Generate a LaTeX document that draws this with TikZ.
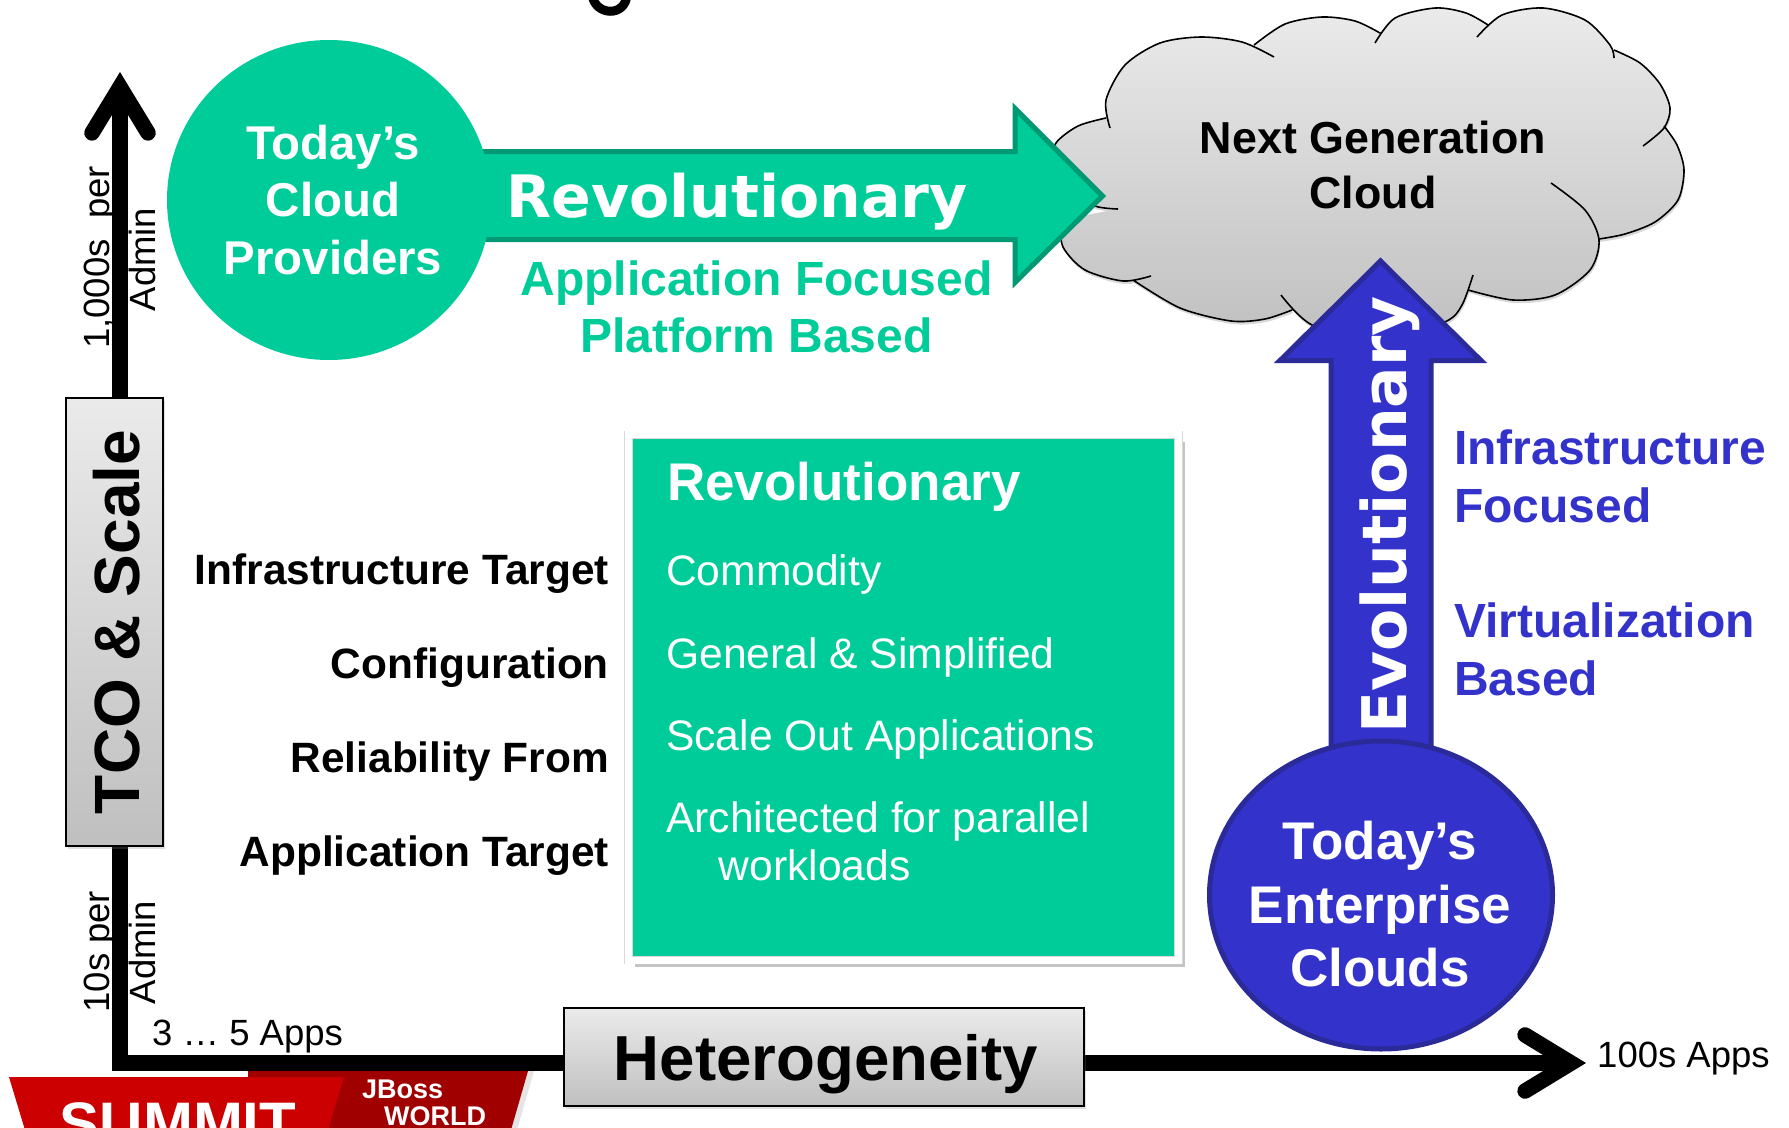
\documentclass[tikz,border=0pt]{standalone}
\usepackage{fontspec}
\setmainfont{Liberation Sans}
\newfontfamily\widefont{DejaVu Sans}
\usetikzlibrary{arrows.meta,shadows,positioning,shapes.geometric}
\definecolor{revgreen}{HTML}{00CC99}
\definecolor{revdark}{HTML}{009973}
\definecolor{evoblue}{HTML}{3333CC}
\definecolor{evodark}{HTML}{2A2A99}
\definecolor{logored}{HTML}{CC0000}
\definecolor{logodark}{HTML}{A00000}
\newcommand{\sized}[2]{\fontsize{#1}{#2}\selectfont}
\newcommand{\cloudbumps}[1]{
  plot[smooth] coordinates {(1118,209) (1095,206) (1068,190) (1052,165) (1056,143) (1078,126) (1106,118)} #1
  plot[smooth] coordinates {(1110,128) (1106,100) (1125,65) (1160,43) (1201,37) (1242,42) (1274,57)} #1
  plot[smooth] coordinates {(1254,45) (1285,24) (1322,17) (1355,21) (1380,33)} #1
  plot[smooth] coordinates {(1375,43) (1395,18) (1435,8) (1466,13) (1488,25)} #1
  plot[smooth] coordinates {(1477,37) (1502,15) (1543,8) (1585,20) (1610,45) (1614,58)} #1
  plot[smooth] coordinates {(1614,50) (1640,63) (1660,84) (1670,108) (1664,128) (1643,146)} #1
  plot[smooth] coordinates {(1664,126) (1677,145) (1684,170) (1678,200) (1655,222) (1625,234) (1599,239)} #1
  plot[smooth] coordinates {(1551,183) (1585,210) (1599,240) (1590,270) (1555,295) (1513,300) (1468,290)} #1
  plot[smooth] coordinates {(1473,275) (1462,305) (1445,322) (1380,345) (1312,325) (1281,295)} #1
  plot[smooth] coordinates {(1292,310) (1265,319) (1231,321) (1180,308) (1133,280)} #1
  plot[smooth] coordinates {(1151,276) (1123,281) (1085,270) (1063,247) (1060,220)}
}
\tikzset{
  axisline/.style={line width=15.5pt,-{Straight Barb[length=46pt,width=56pt,line width=15.5pt,line cap=round,line join=miter]}},
  graybox/.style={draw=black,line width=1.5pt,inner sep=0pt,drop shadow={shadow xshift=2pt,shadow yshift=-3pt,opacity=.25}},
  axislabel/.style={font=\sized{36.5}{40},inner sep=0pt,anchor=base},
  sidelabel/.style={font=\sized{42.4}{50}\bfseries,inner sep=0pt,anchor=base east},
  boxitem/.style={font=\sized{42.6}{50},text=white,inner sep=0pt,anchor=base west},
  disclabel/.style={text=white,align=center,inner sep=0pt},
  bluelabel/.style={font=\sized{48}{58}\bfseries,text=evoblue,align=left,inner sep=0pt,anchor=west}
}
\begin{document}
\begin{tikzpicture}[x=1pt,y=-1pt]
  \useasboundingbox (0,0) rectangle (1789,1130);
  \clip (0,0) rectangle (1789,1130);
  \fill[white] (0,0) rectangle (1789,1130);
  \draw[line width=9pt,line cap=round] (592,-6) .. controls (594,16) and (626,18) .. (627,-6);
  \fill[logodark,drop shadow={shadow xshift=6pt,shadow yshift=0pt,opacity=.2}] (248,1071) -- (528,1071) -- (511,1130) -- (248,1130) -- cycle;
  \fill[logored] (9,1077) -- (344,1077) -- (328,1130) -- (25,1130) -- cycle;
  \node[font=\sized{60}{62}\bfseries,text=white,inner sep=0pt,anchor=base] (summit) at (178,1144) {SUMMIT};
  \node[font=\sized{27}{30}\bfseries,text=white,inner sep=0pt,anchor=base west] (jboss) at (362,1098) {JBoss};
  \node[font=\sized{27}{30}\bfseries,text=white,inner sep=0pt,anchor=base west] (jworld) at (384,1125) {WORLD};
  \draw[color=pink,line width=1.5pt] (0,1129) -- (1789,1129);

  \path[top color=white!92!black,bottom color=black!25,drop shadow={shadow xshift=1pt,shadow yshift=-3pt,opacity=.3}] \cloudbumps{--} -- cycle;
  \draw[line width=1.6pt] \cloudbumps{};
  \node[font=\sized{44.8}{55}\bfseries,align=center,inner sep=0pt] (nextcloud) at (1373,165) {Next Generation\\Cloud};

  \draw[fill=revgreen,draw=revdark,line width=5pt,miter limit=4] (400,151.5) -- (1015,151.5) -- (1015,108.5) -- (1102.5,196) -- (1015,282.5) -- (1015,239.5) -- (400,239.5) -- cycle;
  \node[ellipse,fill=revgreen,minimum width=324pt,minimum height=320pt,inner sep=0pt] (provdisc) at (329,200) {};
  \node[disclabel,font=\sized{47.4}{57.5}\bfseries] (provlabel) at (333,200) {Today’s\\Cloud\\Providers};
  \node[font=\widefont\sized{58.5}{60}\bfseries,text=white,inner sep=0pt,anchor=base] (revword) at (737,217) {Revolutionary};
  \node[font=\sized{48}{57}\bfseries,text=revgreen,align=center,inner sep=0pt] (appfocus) at (756.5,306.5) {Application Focused\\Platform Based};

  \draw[fill=evoblue,draw=evodark,line width=5pt,miter limit=4] (1331,800) -- (1331,360.5) -- (1280,360.5) -- (1380.5,261) -- (1481,360.5) -- (1431,360.5) -- (1431,800) -- cycle;
  \node[ellipse,fill=evoblue,draw=evodark,line width=5pt,minimum width=343pt,minimum height=308pt,inner sep=0pt] (entdisc) at (1381,895) {};
  \node[disclabel,font=\sized{53}{63.5}\bfseries] (entlabel) at (1380,904.5) {Today’s\\Enterprise\\Clouds};
  \node[font=\widefont\sized{61.5}{62}\bfseries,text=white,inner sep=0pt,anchor=base,rotate=90] (evoword) at (1406,515) {Evolutionary};
  \node[bluelabel] (infrafocus) at (1454,476.5) {Infrastructure\\Focused};
  \node[bluelabel] (virtbased) at (1454,649) {Virtualization\\Based};

  \coordinate (origin) at (120,1063);
  \coordinate (yend) at (120,72);
  \coordinate (xend) at (1586,1063);
  \draw[axisline] (origin) -- (yend);
  \draw[axisline] (112.25,1063) -- (xend);
  \node[graybox,rotate=90,top color=white!92!black,bottom color=black!25,font=\sized{64}{70}\bfseries,minimum width=448pt,minimum height=97pt,text height=49pt,text depth=0pt] (tcobox) at (114.5,622) {TCO \& Scale};
  \node[graybox,top color=white!92!black,bottom color=black!25,font=\sized{63.6}{70}\bfseries,minimum width=520pt,minimum height=98pt,text height=47pt,text depth=0pt] (hetbox) at (824,1057) {\hspace*{4pt}Heterogeneity};

  \node[axislabel,rotate=90] (thousands) at (109,257.5) {1,000s\ \ per};
  \node[axislabel,rotate=90] (admintop) at (155,259.5) {Admin};
  \node[axislabel,rotate=90] (tens) at (109,951.7) {10s per};
  \node[axislabel,rotate=90] (adminlow) at (155,952.5) {Admin};
  \node[axislabel,anchor=base west] (fewapps) at (152,1045) {3 … 5 Apps};
  \node[axislabel,anchor=base west] (manyapps) at (1597,1067) {100s Apps};

  \node[sidelabel] (infratarget) at (609,584) {Infrastructure Target};
  \node[sidelabel] (config) at (609,678) {Configuration};
  \node[sidelabel] (relfrom) at (609,772) {Reliability From};
  \node[sidelabel] (apptarget) at (609,866) {Application Target};

  \node[fill=revgreen,draw=black!15,double=white,double distance=7pt,line width=.7pt,minimum width=550pt,minimum height=525.5pt,inner sep=0pt,drop shadow={shadow xshift=6pt,shadow yshift=-7pt,opacity=.45}] (revbox) at (903.5,697.5) {};
  \node[font=\sized{53}{60}\bfseries,text=white,inner sep=0pt,anchor=base west] (revtitle) at (667,500.5) {Revolutionary};
  \node[boxitem] (commodity) at (666,585) {Commodity};
  \node[boxitem] (general) at (666,668) {General \& Simplified};
  \node[boxitem] (scaleout) at (666,750) {Scale Out Applications};
  \node[boxitem] (archfor) at (666,832.5) {Architected for parallel};
  \node[boxitem] (workloads) at (718.6,880) {workloads};
\end{tikzpicture}
\end{document}
